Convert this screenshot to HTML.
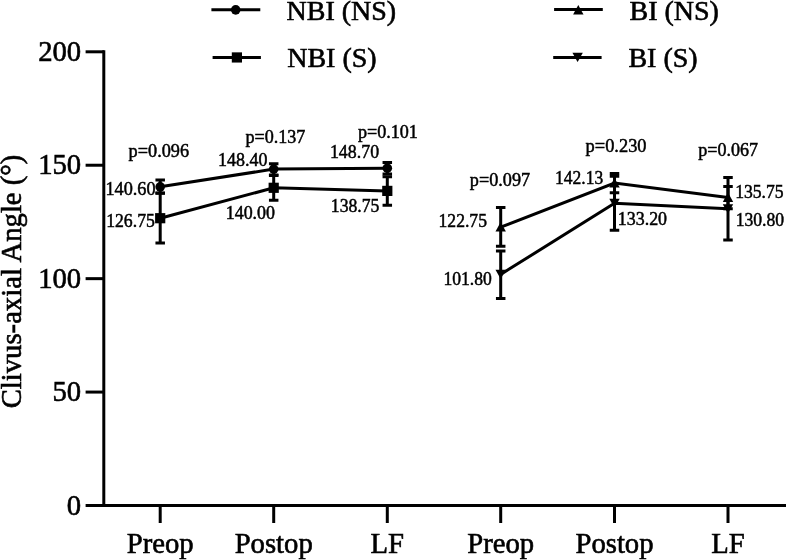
<!DOCTYPE html>
<html><head><meta charset="utf-8"><style>
html,body{margin:0;padding:0;background:#fff;}
svg{display:block;filter:grayscale(1);}
text{font-family:"Liberation Serif", serif;fill:#000;stroke:#000;stroke-width:0.6px;}
text.s{stroke-width:0.5px;}
</style></head><body>
<svg width="787" height="560" viewBox="0 0 787 560">
<rect width="787" height="560" fill="#fff"/>
<line x1="103.8" y1="50.3" x2="103.8" y2="507" stroke="#000" stroke-width="3.0"/>
<line x1="102.3" y1="505.5" x2="786" y2="505.5" stroke="#000" stroke-width="3.0"/>
<line x1="85.6" y1="51.80" x2="104" y2="51.80" stroke="#000" stroke-width="3.0"/>
<text x="81.2" y="61.00" font-size="28.7" text-anchor="end">200</text>
<line x1="85.6" y1="165.23" x2="104" y2="165.23" stroke="#000" stroke-width="3.0"/>
<text x="81.2" y="174.43" font-size="28.7" text-anchor="end">150</text>
<line x1="85.6" y1="278.65" x2="104" y2="278.65" stroke="#000" stroke-width="3.0"/>
<text x="81.2" y="287.85" font-size="28.7" text-anchor="end">100</text>
<line x1="85.6" y1="392.07" x2="104" y2="392.07" stroke="#000" stroke-width="3.0"/>
<text x="81.2" y="401.27" font-size="28.7" text-anchor="end">50</text>
<line x1="85.6" y1="505.50" x2="104" y2="505.50" stroke="#000" stroke-width="3.0"/>
<text x="81.2" y="514.70" font-size="28.7" text-anchor="end">0</text>
<line x1="160.2" y1="505" x2="160.2" y2="523" stroke="#000" stroke-width="3.0"/>
<text x="160.2" y="552.7" font-size="28.7" text-anchor="middle">Preop</text>
<line x1="273.7" y1="505" x2="273.7" y2="523" stroke="#000" stroke-width="3.0"/>
<text x="273.7" y="552.7" font-size="28.7" text-anchor="middle">Postop</text>
<line x1="387.3" y1="505" x2="387.3" y2="523" stroke="#000" stroke-width="3.0"/>
<text x="387.3" y="552.7" font-size="28.7" text-anchor="middle">LF</text>
<line x1="500.7" y1="505" x2="500.7" y2="523" stroke="#000" stroke-width="3.0"/>
<text x="500.7" y="552.7" font-size="28.7" text-anchor="middle">Preop</text>
<line x1="614.5" y1="505" x2="614.5" y2="523" stroke="#000" stroke-width="3.0"/>
<text x="614.5" y="552.7" font-size="28.7" text-anchor="middle">Postop</text>
<line x1="728.0" y1="505" x2="728.0" y2="523" stroke="#000" stroke-width="3.0"/>
<text x="728.0" y="552.7" font-size="28.7" text-anchor="middle">LF</text>
<text transform="translate(20.7,281.5) rotate(-90)" font-size="28.7" text-anchor="middle">Clivus-axial Angle (°)</text>
<path d="M160.2 180V193.3M155.45 180H164.95M155.45 193.3H164.95" stroke="#000" stroke-width="3.0" fill="none"/>
<path d="M273.7 163.7V175M268.95 163.7H278.45M268.95 175H278.45" stroke="#000" stroke-width="3.0" fill="none"/>
<path d="M387.3 162.4V174M382.55 162.4H392.05M382.55 174H392.05" stroke="#000" stroke-width="3.0" fill="none"/>
<path d="M160.2 193V243M155.45 193H164.95M155.45 243H164.95" stroke="#000" stroke-width="3.0" fill="none"/>
<path d="M273.7 175.4V200.3M268.95 175.4H278.45M268.95 200.3H278.45" stroke="#000" stroke-width="3.0" fill="none"/>
<path d="M387.3 176.8V205.2M382.55 176.8H392.05M382.55 205.2H392.05" stroke="#000" stroke-width="3.0" fill="none"/>
<path d="M500.7 207.6V246.2M495.95 207.6H505.45M495.95 246.2H505.45" stroke="#000" stroke-width="3.0" fill="none"/>
<path d="M614.5 173.5V192.7M609.75 173.5H619.25M609.75 192.7H619.25" stroke="#000" stroke-width="3.0" fill="none"/>
<path d="M728.0 186.5V208.7M723.25 186.5H732.75M723.25 208.7H732.75" stroke="#000" stroke-width="3.0" fill="none"/>
<path d="M500.7 250.9V298.5M495.95 250.9H505.45M495.95 298.5H505.45" stroke="#000" stroke-width="3.0" fill="none"/>
<path d="M614.5 176.3V230.3M609.75 176.3H619.25M609.75 230.3H619.25" stroke="#000" stroke-width="3.0" fill="none"/>
<path d="M728.0 177.5V240M723.25 177.5H732.75M723.25 240H732.75" stroke="#000" stroke-width="3.0" fill="none"/>
<polyline points="160.2,186.8 273.7,169.1 387.3,168.2" stroke="#000" stroke-width="3.0" fill="none"/>
<polyline points="160.2,218.2 273.7,187.8 387.3,190.9" stroke="#000" stroke-width="3.0" fill="none"/>
<polyline points="500.7,227.2 614.5,183.1 728.0,197.6" stroke="#000" stroke-width="3.0" fill="none"/>
<polyline points="500.7,274.4 614.5,203.3 728.0,208.8" stroke="#000" stroke-width="3.0" fill="none"/>
<circle cx="160.2" cy="186.8" r="4.8"/>
<circle cx="273.7" cy="169.1" r="4.8"/>
<circle cx="387.3" cy="168.2" r="4.8"/>
<rect x="155.1" y="213.1" width="10.2" height="10.2"/>
<rect x="268.59999999999997" y="182.70000000000002" width="10.2" height="10.2"/>
<rect x="382.2" y="185.8" width="10.2" height="10.2"/>
<path d="M500.7 222.0L505.9 231.5L495.5 231.5Z"/>
<path d="M614.5 177.9L619.7 187.4L609.3 187.4Z"/>
<path d="M728.0 192.4L733.2 201.9L722.8 201.9Z"/>
<path d="M500.7 279.0L505.9 269.79999999999995L495.5 269.79999999999995Z"/>
<path d="M614.5 207.9L619.7 198.70000000000002L609.3 198.70000000000002Z"/>
<path d="M728.0 213.4L733.2 204.20000000000002L722.8 204.20000000000002Z"/>
<line x1="211.4" y1="9.7" x2="260.3" y2="9.7" stroke="#000" stroke-width="3.0"/>
<circle cx="235.7" cy="9.85" r="4.8"/>
<text x="286.5" y="19.8" font-size="28">NBI (NS)</text>
<line x1="212.6" y1="57.4" x2="260.9" y2="57.4" stroke="#000" stroke-width="3.0"/>
<rect x="231.8" y="52.35" width="10.2" height="10.2"/>
<text x="287.2" y="67.3" font-size="28">NBI (S)</text>
<line x1="554.1" y1="9.5" x2="602.8" y2="9.5" stroke="#000" stroke-width="3.0"/>
<path d="M578.3 4.8999999999999995L583.5 14.399999999999999L573.0999999999999 14.399999999999999Z"/>
<text x="629.5" y="19.8" font-size="28">BI (NS)</text>
<line x1="553.2" y1="57.5" x2="601.6" y2="57.5" stroke="#000" stroke-width="3.0"/>
<path d="M577.6 62.0L582.8000000000001 52.8L572.4 52.8Z"/>
<text x="628.4" y="67.3" font-size="28">BI (S)</text>
<text transform="translate(128.61,156.50) scale(0.961,1)" font-size="19" class="s">p=0.096</text>
<text transform="translate(105.40,195.10) scale(0.961,1)" font-size="19" class="s">140.60</text>
<text transform="translate(106.14,226.90) scale(0.933,1)" font-size="19" class="s">126.75</text>
<text transform="translate(245.51,142.60) scale(0.952,1)" font-size="19" class="s">p=0.137</text>
<text transform="translate(218.12,165.50) scale(0.945,1)" font-size="19" class="s">148.40</text>
<text transform="translate(225.73,218.80) scale(0.943,1)" font-size="19" class="s">140.00</text>
<text transform="translate(357.91,137.90) scale(0.954,1)" font-size="19" class="s">p=0.101</text>
<text transform="translate(329.93,158.20) scale(0.941,1)" font-size="19" class="s">148.70</text>
<text transform="translate(330.85,212.30) scale(0.931,1)" font-size="19" class="s">138.75</text>
<text transform="translate(469.81,185.90) scale(0.958,1)" font-size="19" class="s">p=0.097</text>
<text transform="translate(438.55,226.80) scale(0.927,1)" font-size="19" class="s">122.75</text>
<text transform="translate(443.45,284.90) scale(0.927,1)" font-size="19" class="s">101.80</text>
<text transform="translate(585.60,151.80) scale(0.969,1)" font-size="19" class="s">p=0.230</text>
<text transform="translate(555.06,183.70) scale(0.921,1)" font-size="19" class="s">142.13</text>
<text transform="translate(617.83,224.60) scale(0.943,1)" font-size="19" class="s">133.20</text>
<text transform="translate(698.31,155.90) scale(0.950,1)" font-size="19" class="s">p=0.067</text>
<text transform="translate(735.15,197.50) scale(0.929,1)" font-size="19" class="s">135.75</text>
<text transform="translate(735.65,225.90) scale(0.929,1)" font-size="19" class="s">130.80</text>
</svg>
</body></html>
